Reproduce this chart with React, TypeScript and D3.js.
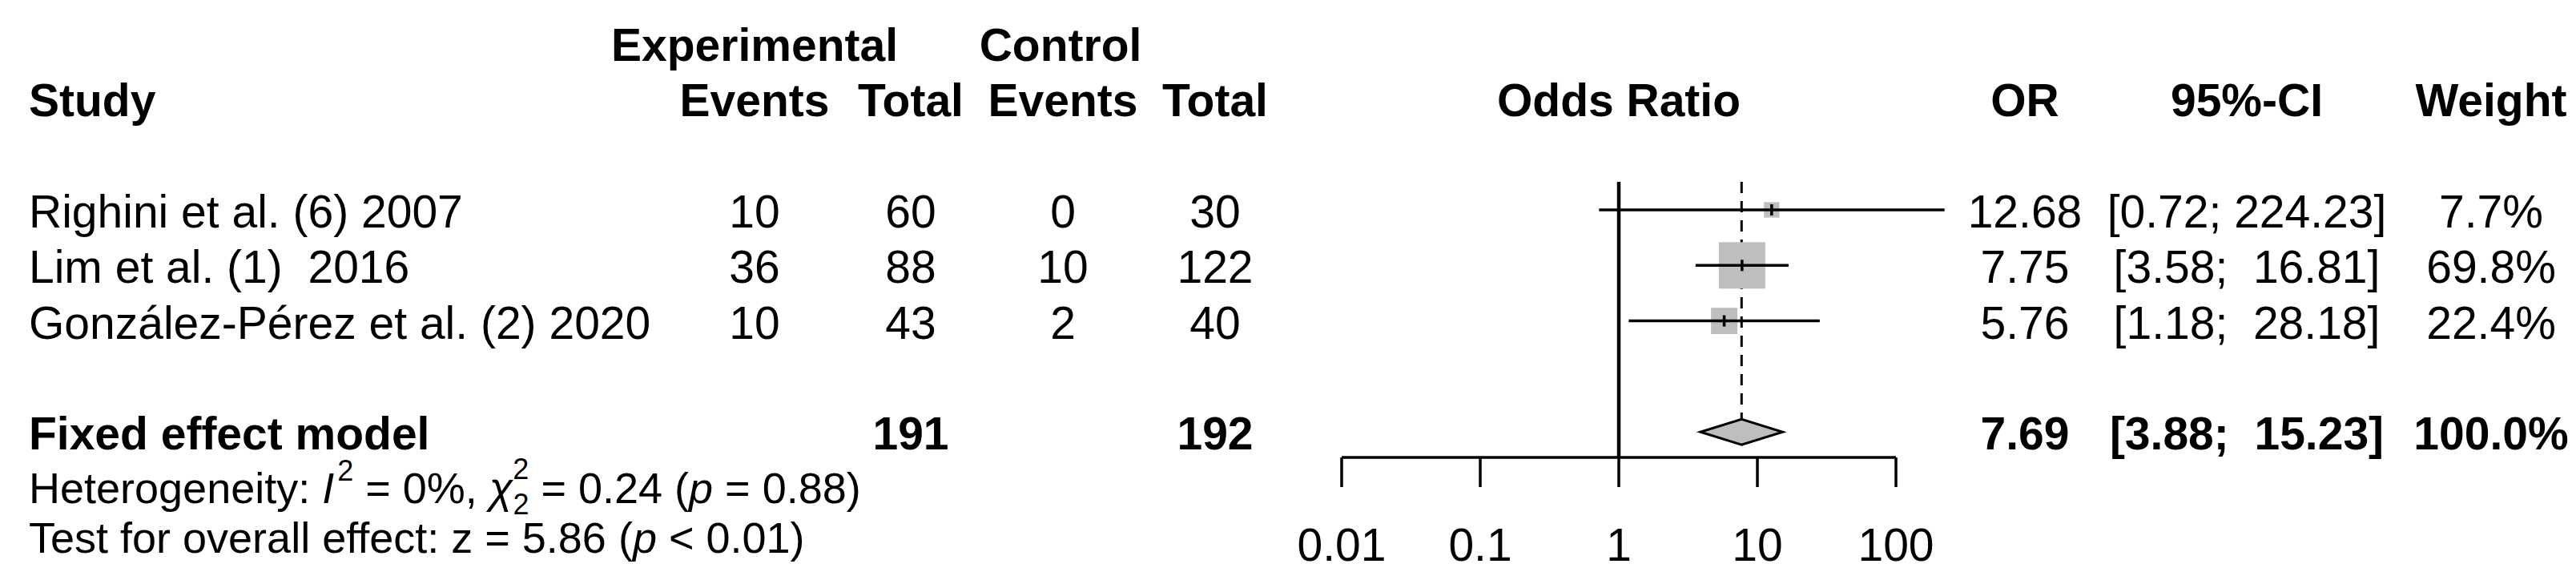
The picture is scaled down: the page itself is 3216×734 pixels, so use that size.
import React from 'react';
import * as d3 from 'd3';

// study rows
const studies = ["Righini et al. (6) 2007", "Lim et al. (1)  2016", "González-Pérez et al. (2) 2020"];
const expEvents = [10, 36, 10];
const expTotal = [60, 88, 43];
const ctrlEvents = [0, 10, 2];
const ctrlTotal = [30, 122, 40];
const oddsRatio = [12.68, 7.75, 5.76];
const ciLower = [0.72, 3.58, 1.18];
const ciUpper = [224.23, 16.81, 28.18];
const weights = [7.7, 69.8, 22.4];

// pooled (fixed effect)
const pooledLabel = "Fixed effect model";
const pooledTotals = [191, 192];
const pooledOR = 7.69;
const pooledCI = [3.88, 15.23];
const pooledWeight = 100.0;

const axisTicks = [0.01, 0.1, 1, 10, 100];
const axisTickLabels = ["0.01", "0.1", "1", "10", "100"];

const FONT = "'Liberation Sans', Arial, sans-serif";
const FS = 57;

// R-style padding of the upper limit
const fmtCI = (lo: number, hi: number) => `[${lo.toFixed(2)}; ${hi.toFixed(2).padStart(6, '\u00a0')}]`;

const App = () => {
    const width = 3216;
    const height = 734;

    const x = d3.scaleLog().domain([0.01, 100]).range([1675, 2367]);
    // row index -> row centre
    const y = d3.scaleLinear().domain([0, 1]).range([262, 331.3]);
    const boxSize = d3.scaleSqrt().domain([0, 69.8]).range([0, 58]);

    const colX = { expEv: 942, expTot: 1137, ctrlEv: 1327, ctrlTot: 1517, or: 2528, ci: 2805, w: 3110 };
    const base = (i: number) => y(i) + 22;
    const axisY = 571;
    const topY = 227;
    const diamondY = y(4);
    const diamondH = 16;

    const txt = { fontFamily: FONT, fontSize: FS, fill: '#000', whiteSpace: 'pre' } as React.CSSProperties;

    const diamond = d3.line()([
        [x(pooledCI[0]), diamondY],
        [x(pooledOR), diamondY - diamondH],
        [x(pooledCI[1]), diamondY],
        [x(pooledOR), diamondY + diamondH],
    ]) + 'Z';

    return (
        <div style={{ position: 'absolute', left: 0, top: 0, background: '#fff' }}>
            <svg width={width} height={height} style={{ display: 'block' }}>
                <rect width={width} height={height} fill="#fff" />

                {/* headers */}
                <g style={txt} fontWeight="bold">
                    <text x={colX.expEv} y={base(-3)} textAnchor="middle">Experimental</text>
                    <text x={1324} y={base(-3)} textAnchor="middle">Control</text>
                    <text x={36} y={base(-2)}>Study</text>
                    <text x={colX.expEv} y={base(-2)} textAnchor="middle">Events</text>
                    <text x={colX.expTot} y={base(-2)} textAnchor="middle">Total</text>
                    <text x={colX.ctrlEv} y={base(-2)} textAnchor="middle">Events</text>
                    <text x={colX.ctrlTot} y={base(-2)} textAnchor="middle">Total</text>
                    <text x={x(1)} y={base(-2)} textAnchor="middle">Odds Ratio</text>
                    <text x={colX.or} y={base(-2)} textAnchor="middle">OR</text>
                    <text x={colX.ci} y={base(-2)} textAnchor="middle">95%-CI</text>
                    <text x={colX.w} y={base(-2)} textAnchor="middle">Weight</text>
                </g>

                {/* study rows */}
                {studies.map((s, i) => (
                    <g key={s} style={txt}>
                        <text x={36} y={base(i)}>{s.replace(/  /g, ' \u00a0')}</text>
                        <text x={colX.expEv} y={base(i)} textAnchor="middle">{expEvents[i]}</text>
                        <text x={colX.expTot} y={base(i)} textAnchor="middle">{expTotal[i]}</text>
                        <text x={colX.ctrlEv} y={base(i)} textAnchor="middle">{ctrlEvents[i]}</text>
                        <text x={colX.ctrlTot} y={base(i)} textAnchor="middle">{ctrlTotal[i]}</text>
                        <text x={colX.or} y={base(i)} textAnchor="middle">{oddsRatio[i].toFixed(2)}</text>
                        <text x={colX.ci} y={base(i)} textAnchor="middle">{fmtCI(ciLower[i], ciUpper[i])}</text>
                        <text x={colX.w} y={base(i)} textAnchor="middle">{weights[i].toFixed(1) + '%'}</text>
                    </g>
                ))}

                {/* pooled row text */}
                <g style={txt} fontWeight="bold">
                    <text x={36} y={base(4)}>{pooledLabel}</text>
                    <text x={colX.expTot} y={base(4)} textAnchor="middle">{pooledTotals[0]}</text>
                    <text x={colX.ctrlTot} y={base(4)} textAnchor="middle">{pooledTotals[1]}</text>
                    <text x={colX.or} y={base(4)} textAnchor="middle">{pooledOR.toFixed(2)}</text>
                    <text x={colX.ci} y={base(4)} textAnchor="middle">{fmtCI(pooledCI[0], pooledCI[1])}</text>
                    <text x={colX.w} y={base(4)} textAnchor="middle">{pooledWeight.toFixed(1) + '%'}</text>
                </g>

                {/* heterogeneity / overall effect */}
                <g style={{ ...txt, fontSize: 54 }}>
                    <text x={36} y={628}>
                        {"Heterogeneity: "}
                        <tspan fontStyle="italic">I</tspan>
                        <tspan fontSize={36} dx={4} dy={-28}>2</tspan>
                        <tspan dy={28}>{" = 0%, "}</tspan>
                        <tspan fontStyle="italic">χ</tspan>
                        <tspan fontSize={36} dy={-30}>2</tspan>
                        <tspan fontSize={36} dx={-20} dy={44}>2</tspan>
                        <tspan dy={-14}>{" = 0.24 ("}</tspan>
                        <tspan fontStyle="italic">p</tspan>
                        {" = 0.88)"}
                    </text>
                    <text x={36} y={690}>
                        {"Test for overall effect: z = 5.86 ("}
                        <tspan fontStyle="italic">p</tspan>
                        {" < 0.01)"}
                    </text>
                </g>

                {/* reference line and pooled estimate line */}
                <line x1={x(1)} x2={x(1)} y1={topY} y2={axisY} stroke="#000" strokeWidth={4.5} />
                <line x1={x(pooledOR)} x2={x(pooledOR)} y1={topY} y2={diamondY - diamondH}
                    stroke="#000" strokeWidth={3} strokeDasharray="14,10" />

                {/* study boxes and CIs */}
                {studies.map((s, i) => {
                    const cx = x(oddsRatio[i]);
                    const cy = y(i);
                    const bs = boxSize(weights[i]);
                    return (
                        <g key={'m' + s}>
                            <rect x={cx - bs / 2} y={cy - bs / 2} width={bs} height={bs} fill="#bebebe" />
                            <line x1={x(ciLower[i])} x2={x(ciUpper[i])} y1={cy} y2={cy} stroke="#000" strokeWidth={3.5} />
                            <line x1={cx} x2={cx} y1={cy - 7} y2={cy + 7} stroke="#000" strokeWidth={3.5} />
                        </g>
                    );
                })}

                {/* pooled diamond */}
                <path d={diamond} fill="#bebebe" stroke="#000" strokeWidth={3} />

                {/* x axis */}
                <line x1={x(axisTicks[0])} x2={x(axisTicks[axisTicks.length - 1])} y1={axisY} y2={axisY}
                    stroke="#000" strokeWidth={3.5} />
                {axisTicks.map((t, i) => (
                    <g key={t}>
                        <line x1={x(t)} x2={x(t)} y1={axisY} y2={axisY + 37} stroke="#000" strokeWidth={3.5} />
                        <text x={x(t)} y={700} textAnchor="middle" style={txt}>{axisTickLabels[i]}</text>
                    </g>
                ))}
            </svg>
        </div>
    );
};

export default App;
